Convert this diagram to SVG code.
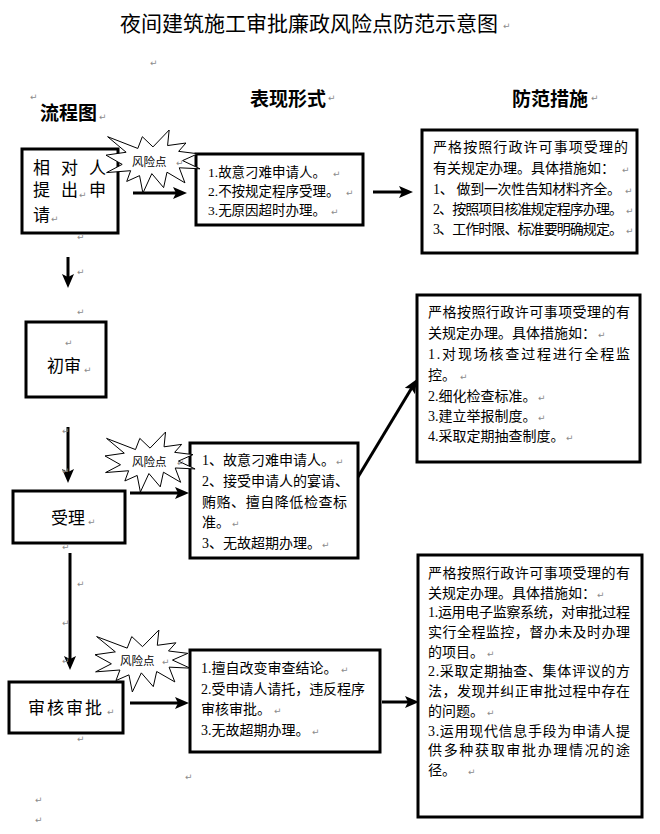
<svg xmlns="http://www.w3.org/2000/svg" xmlns:xlink="http://www.w3.org/1999/xlink" width="660" height="834" viewBox="0 0 660 834">
<style>
.t{font-family:"Liberation Serif","Noto Sans CJK SC",serif;font-size:14px;fill:#000}
.ex{font-size:13.5px}
.fl{font-family:"Liberation Serif","Noto Sans CJK SC",serif;font-size:17px;fill:#000}
.h{font-family:"Noto Sans CJK SC",sans-serif;font-weight:bold;font-size:19px;fill:#000}
.title{font-family:"Noto Sans CJK SC",sans-serif;font-size:21px;fill:#000}
.risk{font-family:"Noto Sans CJK SC",sans-serif;font-size:11.5px;fill:#000}
.pm{font-family:"DejaVu Sans",sans-serif;font-size:9px;fill:#8c8c8c}
.box{fill:#fff;stroke:#000;stroke-width:3}
.conn line{stroke:#000;stroke-width:3;marker-end:url(#ah)}
</style>
<defs>
<marker id="ah" markerUnits="userSpaceOnUse" markerWidth="15" markerHeight="12" refX="6" refY="6" orient="auto">
<path d="M0,0 L14,6 L0,12 L3,6 Z" fill="#000"/>
</marker>
<path id="star" d="M108,58 L145.22,0 L141.55,53.25 L183.8,44.57 L167.02,73.15 L210.97,81.37 L176.07,104.75 L216,132.9 L168.37,129.42 L181.45,180.95 L140.2,144.57 L132.47,197.37 L105.32,149.35 L84.85,216 L77.15,156.27 L47.62,176.17 L56.67,139.37 L1.35,145.87 L37.22,117.75 L0,86.15 L46.27,76.17 L3.7,22.95 L73.12,63.2 L83.52,22.95 Z" fill="#fff" stroke="#000" stroke-width="1" vector-effect="non-scaling-stroke"/>
</defs>
<rect width="660" height="834" fill="#fff"/>

<g id="headers">
<text class="title" x="120" y="31">夜间建筑施工审批廉政风险点防范示意图</text>
<text class="h" x="40" y="120">流程图</text>
<text class="h" x="250" y="106">表现形式</text>
<text class="h" x="512" y="106">防范措施</text>
</g>

<g id="connectors" class="conn">
<line x1="133" y1="193" x2="179" y2="193"/>
<line x1="373" y1="192" x2="405" y2="192"/>
<line x1="68" y1="257" x2="68" y2="280"/>
<line x1="68" y1="427" x2="68" y2="475"/>
<line x1="130" y1="493" x2="181" y2="493"/>
<line x1="358" y1="477" x2="412.9" y2="385.9"/>
<line x1="70" y1="553" x2="70" y2="662"/>
<line x1="130" y1="703" x2="181" y2="703"/>
<line x1="382" y1="702" x2="411" y2="702"/>
</g>

<g id="node-apply">
<rect class="box" x="22" y="149" width="96" height="84"/>
<text class="fl" y="174"><tspan x="33">相</tspan><tspan x="61">对</tspan><tspan x="89">人</tspan></text>
<text class="fl" y="196"><tspan x="33">提</tspan><tspan x="61">出</tspan><tspan x="89">申</tspan></text>
<text class="fl" x="33" y="221">请</text>
</g>

<g id="node-chushen">
<rect class="box" x="26" y="322" width="80" height="75" stroke-width="2.5"/>
<text class="fl" x="47" y="372">初审</text>
</g>

<g id="node-shouli">
<rect class="box" x="13" y="491" width="112" height="52"/>
<text class="fl" x="51" y="524">受理</text>
</g>

<g id="node-shenhe">
<rect class="box" x="9" y="682" width="114" height="51"/>
<text class="fl" x="28" y="714" letter-spacing="2">审核审批</text>
</g>

<g id="node-expr1">
<rect class="box" x="196" y="154" width="167" height="71"/>
<text class="t ex" x="208" y="177">1.故意刁难申请人。</text>
<text class="t ex" x="208" y="196">2.不按规定程序受理。</text>
<text class="t ex" x="208" y="215">3.无原因超时办理。</text>
</g>

<g id="node-measure1">
<rect class="box" x="422" y="130" width="215" height="123"/>
<text class="t" x="433" y="152" textLength="195" lengthAdjust="spacing">严格按照行政许可事项受理的</text>
<text class="t" x="433" y="173">有关规定办理。具体措施如：</text>
<text class="t" x="433" y="194" textLength="188" lengthAdjust="spacing">1、 做到一次性告知材料齐全。</text>
<text class="t" x="433" y="214" textLength="190" lengthAdjust="spacing">2、按照项目核准规定程序办理。</text>
<text class="t" x="433" y="234" textLength="190" lengthAdjust="spacing">3、工作时限、标准要明确规定。</text>
</g>

<g id="node-expr2">
<rect class="box" x="190" y="443" width="168" height="115"/>
<text class="t" x="202" y="465">1、故意刁难申请人。</text>
<text class="t" x="202" y="486">2、接受申请人的宴请、</text>
<text class="t" x="202" y="507" textLength="145" lengthAdjust="spacing">贿赂、擅自降低检查标</text>
<text class="t" x="202" y="527">准。</text>
<text class="t" x="202" y="548">3、无故超期办理。</text>
</g>

<g id="node-measure2">
<rect class="box" x="417" y="295" width="223" height="167"/>
<text class="t" x="428" y="317" textLength="202" lengthAdjust="spacing">严格按照行政许可事项受理的有</text>
<text class="t" x="428" y="338">关规定办理。具体措施如：</text>
<text class="t" x="428" y="359" textLength="202" lengthAdjust="spacing">1.对现场核查过程进行全程监</text>
<text class="t" x="428" y="380">控。</text>
<text class="t" x="428" y="401">2.细化检查标准。</text>
<text class="t" x="428" y="421">3.建立举报制度。</text>
<text class="t" x="428" y="441">4.采取定期抽查制度。</text>
</g>

<g id="node-expr3">
<rect class="box" x="190" y="650" width="190" height="102"/>
<text class="t" x="201" y="673">1.擅自改变审查结论。</text>
<text class="t" x="201" y="694" textLength="164" lengthAdjust="spacing">2.受申请人请托，违反程序</text>
<text class="t" x="201" y="714">审核审批。</text>
<text class="t" x="201" y="735">3.无故超期办理。</text>
</g>

<g id="node-measure3">
<rect class="box" x="418" y="555" width="224" height="262"/>
<text class="t" x="428" y="578" textLength="202" lengthAdjust="spacing">严格按照行政许可事项受理的有</text>
<text class="t" x="428" y="598">关规定办理。具体措施如：</text>
<text class="t" x="428" y="617" textLength="202" lengthAdjust="spacing">1.运用电子监察系统，对审批过程</text>
<text class="t" x="428" y="637" textLength="202" lengthAdjust="spacing">实行全程监控，督办未及时办理</text>
<text class="t" x="428" y="657">的项目。</text>
<text class="t" x="428" y="676" textLength="202" lengthAdjust="spacing">2.采取定期抽查、集体评议的方</text>
<text class="t" x="428" y="696" textLength="202" lengthAdjust="spacing">法，发现并纠正审批过程中存在</text>
<text class="t" x="428" y="716">的问题。</text>
<text class="t" x="428" y="736" textLength="202" lengthAdjust="spacing">3.运用现代信息手段为申请人提</text>
<text class="t" x="428" y="755" textLength="202" lengthAdjust="spacing">供多种获取审批办理情况的途</text>
<text class="t" x="428" y="775">径。</text>
</g>

<g id="risk1">
<use xlink:href="#star" href="#star" transform="translate(106,130) scale(0.435,0.292)"/>
<text class="risk" x="132" y="166">风险点</text>
</g>
<g id="risk2">
<use xlink:href="#star" href="#star" transform="translate(105,432) scale(0.417,0.278)"/>
<text class="risk" x="132" y="466">风险点</text>
</g>
<g id="risk3">
<use xlink:href="#star" href="#star" transform="translate(95,630) scale(0.44,0.287)"/>
<text class="risk" x="120" y="665">风险点</text>
</g>

<g id="marks" class="pm">
<text x="503" y="29">↵</text>
<text x="150" y="66">↵</text>
<text x="30" y="100">↵</text>
<text x="328" y="101">↵</text>
<text x="591" y="101">↵</text>
<text x="99" y="120">↵</text>
<text x="79" y="198">↵</text>
<text x="51" y="222">↵</text>
<text x="77" y="240">↵</text>
<text x="77" y="275">↵</text>
<text x="176" y="166">↵</text>
<text x="333" y="177">↵</text>
<text x="346" y="196">↵</text>
<text x="331" y="215">↵</text>
<text x="622" y="173">↵</text>
<text x="625" y="194">↵</text>
<text x="626" y="214">↵</text>
<text x="626" y="234">↵</text>
<text x="77" y="315">↵</text>
<text x="65" y="346">↵</text>
<text x="84" y="373">↵</text>
<text x="62" y="434">↵</text>
<text x="62" y="474">↵</text>
<text x="88" y="525">↵</text>
<text x="62" y="550">↵</text>
<text x="177" y="466">↵</text>
<text x="336" y="465">↵</text>
<text x="232" y="527">↵</text>
<text x="322" y="548">↵</text>
<text x="598" y="338">↵</text>
<text x="460" y="380">↵</text>
<text x="538" y="401">↵</text>
<text x="538" y="421">↵</text>
<text x="566" y="441">↵</text>
<text x="77" y="587">↵</text>
<text x="62" y="626">↵</text>
<text x="62" y="664">↵</text>
<text x="162" y="665">↵</text>
<text x="107" y="715">↵</text>
<text x="77" y="742">↵</text>
<text x="341" y="673">↵</text>
<text x="274" y="714">↵</text>
<text x="312" y="735">↵</text>
<text x="597" y="598">↵</text>
<text x="487" y="657">↵</text>
<text x="487" y="716">↵</text>
<text x="468" y="775">↵</text>
<text x="185" y="780">↵</text>
<text x="35" y="803">↵</text>
<text x="35" y="823">↵</text>
</g>
</svg>
